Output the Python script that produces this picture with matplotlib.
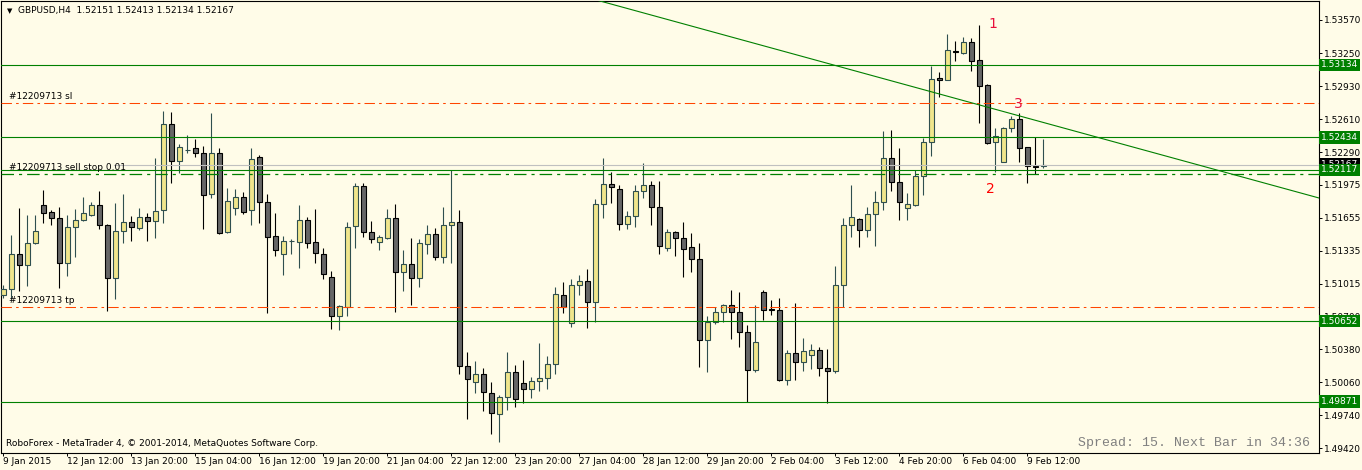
import matplotlib
matplotlib.use("Agg")
import matplotlib.pyplot as plt
from matplotlib.transforms import blended_transform_factory

# GBPUSD H4 bars, oldest first
opens = [1.50905, 1.50961, 1.51300, 1.51193, 1.51406, 1.51774, 1.51707, 1.51648, 1.51212, 1.51561,
         1.51632, 1.51678, 1.51774, 1.51581, 1.51067, 1.51523, 1.51610, 1.51552, 1.51658, 1.51619,
         1.51726, 1.52559, 1.52201, 1.52312, 1.52327, 1.52278, 1.51881, 1.52278, 1.51519, 1.51745,
         1.51852, 1.51726, 1.52240, 1.51804, 1.51474, 1.51300, 1.51424, 1.51422, 1.51629, 1.51416,
         1.51300, 1.51077, 1.50705, 1.50792, 1.51571, 1.51959, 1.51513, 1.51422, 1.51460, 1.51651,
         1.51125, 1.51206, 1.51067, 1.51397, 1.51493, 1.51271, 1.51581, 1.51610, 1.50214, 1.50059,
         1.50137, 1.49953, 1.49749, 1.49914, 1.50156, 1.50050, 1.49992, 1.50069, 1.50098, 1.50234,
         1.50902, 1.50631, 1.50999, 1.51038, 1.50834, 1.51784, 1.51978, 1.51930, 1.51590, 1.51668,
         1.51910, 1.51968, 1.51755, 1.51358, 1.51513, 1.51455, 1.51367, 1.51251, 1.50466, 1.50641,
         1.50738, 1.50805, 1.50738, 1.50544, 1.50176, 1.50931, 1.50767, 1.50757, 1.50079, 1.50340,
         1.50253, 1.50321, 1.50369, 1.50195, 1.50166, 1.50999, 1.51581, 1.51639, 1.51532, 1.51687,
         1.51809, 1.52230, 1.52003, 1.51751, 1.51782, 1.52054, 1.52385, 1.53005, 1.52986, 1.53265,
         1.53253, 1.53354, 1.53180, 1.52937, 1.52385, 1.52197, 1.52521, 1.52611, 1.52339, 1.52155,
         1.52151]
highs = [1.51002, 1.51487, 1.51751, 1.51680, 1.51680, 1.51923, 1.51729, 1.51761, 1.51680, 1.51739,
         1.51858, 1.51809, 1.51916, 1.51593, 1.51794, 1.51884, 1.51671, 1.51745, 1.51697, 1.52230,
         1.52688, 1.52676, 1.52368, 1.52456, 1.52417, 1.52352, 1.52666, 1.52327, 1.51945, 1.51930,
         1.51903, 1.52333, 1.52262, 1.51881, 1.51697, 1.51477, 1.51445, 1.51777, 1.51661, 1.51739,
         1.51361, 1.51138, 1.50811, 1.51613, 1.51991, 1.51988, 1.51622, 1.51487, 1.51739, 1.51787,
         1.51341, 1.51458, 1.51445, 1.51584, 1.51557, 1.51758, 1.52112, 1.51726, 1.50353, 1.50269,
         1.50195, 1.50059, 1.49936, 1.50353, 1.50227, 1.50273, 1.50108, 1.50443, 1.50314, 1.50983,
         1.51028, 1.51057, 1.51096, 1.51157, 1.51833, 1.52233, 1.52094, 1.51968, 1.51716, 1.51968,
         1.52181, 1.52007, 1.52007, 1.51542, 1.51523, 1.51613, 1.51503, 1.51406, 1.50702, 1.50786,
         1.50821, 1.50954, 1.50931, 1.50612, 1.50811, 1.50954, 1.50854, 1.50876, 1.50372, 1.50825,
         1.50486, 1.50428, 1.50404, 1.50379, 1.51183, 1.51648, 1.51971, 1.51648, 1.51755, 1.51910,
         1.52494, 1.52504, 1.52333, 1.51891, 1.52121, 1.52424, 1.53127, 1.53063, 1.53434, 1.53367,
         1.53402, 1.53393, 1.53522, 1.52950, 1.52524, 1.52536, 1.52640, 1.52666, 1.52344, 1.52439,
         1.52413]
lows = [1.50873, 1.50864, 1.50947, 1.50995, 1.51399, 1.51606, 1.51584, 1.50970, 1.51092, 1.51276,
        1.51625, 1.51671, 1.51542, 1.50753, 1.50867, 1.51412, 1.51431, 1.51535, 1.51431, 1.51455,
        1.51606, 1.51993, 1.52090, 1.52284, 1.52245, 1.51548, 1.51848, 1.51493, 1.51509, 1.51680,
        1.51690, 1.51584, 1.51606, 1.50734, 1.51286, 1.51102, 1.51303, 1.51170, 1.51364, 1.51218,
        1.51060, 1.50573, 1.50566, 1.50702, 1.51364, 1.51470, 1.51412, 1.51338, 1.51445, 1.50743,
        1.50947, 1.50811, 1.50986, 1.51303, 1.51244, 1.51212, 1.51212, 1.50140, 1.49707, 1.49959,
        1.49784, 1.49555, 1.49484, 1.49788, 1.49823, 1.49856, 1.49904, 1.49972, 1.49997, 1.50137,
        1.50728, 1.50592, 1.50902, 1.50583, 1.50641, 1.51654, 1.51794, 1.51532, 1.51548, 1.51567,
        1.51848, 1.51587, 1.51300, 1.51335, 1.51283, 1.51083, 1.51131, 1.50210, 1.50162, 1.50621,
        1.50641, 1.50482, 1.50404, 1.49871, 1.50162, 1.50666, 1.50714, 1.50072, 1.50036, 1.50079,
        1.50172, 1.50191, 1.50123, 1.49856, 1.50152, 1.50789, 1.51470, 1.51373, 1.51470, 1.51383,
        1.51729, 1.51913, 1.51632, 1.51632, 1.51768, 1.51874, 1.52255, 1.52821, 1.52984, 1.53176,
        1.53238, 1.53079, 1.52569, 1.52373, 1.52100, 1.52194, 1.52488, 1.52197, 1.51993, 1.52075,
        1.52134]
closes = [1.50961, 1.51300, 1.51193, 1.51406, 1.51525, 1.51697, 1.51648, 1.51212, 1.51561, 1.51632,
          1.51697, 1.51774, 1.51581, 1.51067, 1.51523, 1.51610, 1.51567, 1.51658, 1.51619, 1.51716,
          1.52559, 1.52201, 1.52336, 1.52315, 1.52278, 1.51871, 1.52278, 1.51509, 1.51816, 1.51852,
          1.51712, 1.52220, 1.51804, 1.51470, 1.51338, 1.51426, 1.51426, 1.51629, 1.51412, 1.51309,
          1.51106, 1.50705, 1.50796, 1.51564, 1.51959, 1.51513, 1.51445, 1.51467, 1.51651, 1.51125,
          1.51206, 1.51067, 1.51406, 1.51493, 1.51271, 1.51581, 1.51610, 1.50214, 1.50088, 1.50137,
          1.49962, 1.49759, 1.49914, 1.50156, 1.49895, 1.49992, 1.50069, 1.50098, 1.50234, 1.50912,
          1.50786, 1.50999, 1.51038, 1.50834, 1.51784, 1.51978, 1.51949, 1.51590, 1.51668, 1.51910,
          1.51968, 1.51755, 1.51377, 1.51513, 1.51455, 1.51348, 1.51251, 1.50466, 1.50646, 1.50738,
          1.50808, 1.50738, 1.50544, 1.50176, 1.50447, 1.50763, 1.50760, 1.50079, 1.50340, 1.50253,
          1.50360, 1.50369, 1.50195, 1.50166, 1.50999, 1.51581, 1.51658, 1.51532, 1.51687, 1.51804,
          1.52230, 1.52003, 1.51809, 1.51787, 1.52058, 1.52385, 1.52998, 1.52986, 1.53276, 1.53262,
          1.53354, 1.53176, 1.52933, 1.52381, 1.52443, 1.52524, 1.52611, 1.52327, 1.52152, 1.52150,
          1.52167]

date_labels = ["9 Jan 2015", "12 Jan 12:00", "13 Jan 20:00", "15 Jan 04:00", "16 Jan 12:00",
               "19 Jan 20:00", "21 Jan 04:00", "22 Jan 12:00", "23 Jan 20:00", "27 Jan 04:00",
               "28 Jan 12:00", "29 Jan 20:00", "2 Feb 04:00", "3 Feb 12:00", "4 Feb 20:00",
               "6 Feb 04:00", "9 Feb 12:00"]
bars_per_label = 8

price_ticks = [1.53570, 1.53250, 1.52930, 1.52610, 1.52290, 1.51975, 1.51655,
               1.51335, 1.51015, 1.50700, 1.50380, 1.50060, 1.49740, 1.49420]
levels = [1.53134, 1.52434, 1.52117, 1.50652, 1.49871]
bid = 1.52167
sl_price = 1.52766
tp_price = 1.50789
stop_price = 1.52078
trend_x = [70, 170]
trend_y = [1.53851, 1.51727]
marks = ["1", "2", "3"]
marks_x = [123.7, 123.3, 126.9]
marks_y = [1.53531, 1.51932, 1.52756]

bg = "#FFFCE8"
green = "#008000"
orange = "#FF4500"
plt.rcParams["font.family"] = ["DejaVu Sans"]

W, H = 1362, 470
fig = plt.figure(figsize=(W / 100, H / 100), dpi=100, facecolor=bg)
ax = fig.add_axes([1 / W, 1 - 452.5 / H, 1318 / W, 451.5 / H], facecolor=bg)
ax.set_xlim(-0.3125, 164.44)
ax.set_ylim(1.49379, 1.53754)

n = len(opens)
xs = list(range(n))
up = [c >= o for o, c in zip(opens, closes)]
edge = ["#2F4F4F" if u else "black" for u in up]
face = ["#F0E68C" if u else "#666666" for u in up]
ax.vlines(xs, lows, highs, colors=edge, lw=0.8, zorder=2)
ax.bar(xs, [c - o for o, c in zip(opens, closes)], bottom=opens, width=0.56,
       color=face, edgecolor=edge, lw=0.8, zorder=3)

# horizontal levels and orders
tr = blended_transform_factory(ax.transAxes, ax.transData)
ax.axhline(bid, xmin=113 / 1318, color="#C0C0C0", lw=0.8, zorder=3.5)
for p in levels:
    ax.axhline(p, color=green, lw=0.8, zorder=4)
dashdot = (0, (10, 4, 2.5, 4))
ax.axhline(sl_price, color=orange, lw=0.75, ls=dashdot, zorder=4)
ax.axhline(tp_price, color=orange, lw=0.75, ls=dashdot, zorder=4)
ax.axhline(stop_price, color=green, lw=0.9, ls=dashdot, zorder=4)
ax.plot(trend_x, trend_y, color=green, lw=0.8, zorder=4)

for txt, p in [("#12209713 sl", sl_price), ("#12209713 sell stop 0.01", stop_price),
               ("#12209713 tp", tp_price)]:
    ax.annotate(txt, xy=(0.006, p), xycoords=tr, xytext=(0, 1.5), textcoords="offset points",
                fontsize=6.5, va="bottom", ha="left", color="black", zorder=5)

for m, mx, my in zip(marks, marks_x, marks_y):
    ax.text(mx, my, m, fontsize=10, color="#E8103C" if m != "2" else "red",
            ha="center", va="center", zorder=5)

# price labels on the right
ax.text(1.0015, bid, f"{bid:.5f}", transform=tr, color="white", fontsize=6.5, va="center",
        ha="left", bbox=dict(boxstyle="square,pad=0.2", fc="black", ec="none"), zorder=6)
for p in levels:
    ax.text(1.0015, p, f"{p:.5f}", transform=tr, color="white", fontsize=6.5, va="center",
            ha="left", bbox=dict(boxstyle="square,pad=0.2", fc=green, ec="none"), zorder=7)

ax.yaxis.tick_right()
ax.set_yticks(price_ticks)
ax.set_yticklabels([f"{p:.5f}" for p in price_ticks])
ax.tick_params(axis="y", direction="out", length=2.2, width=0.7, pad=1.5, labelsize=6.5)
ax.set_xticks(xs[::bars_per_label])
ax.set_xticklabels(date_labels)
ax.tick_params(axis="x", direction="out", length=2.2, width=0.7, pad=1, labelsize=6.5)
for lbl in ax.get_xticklabels():
    lbl.set_ha("left")
for s in ax.spines.values():
    s.set_color("black")
    s.set_linewidth(0.8)

fig.text(10 / W, 1 - 11 / H, "\u25bc", fontsize=5, ha="center", va="center")
fig.text(18 / W, 1 - 10.5 / H, "GBPUSD,H4  1.52151 1.52413 1.52134 1.52167",
         fontsize=6.5, ha="left", va="center")
fig.text(6 / W, 1 - 444 / H, "RoboForex - MetaTrader 4, \u00a9 2001-2014, MetaQuotes Software Corp.",
         fontsize=6.5, ha="left", va="center")
fig.text(1310 / W, 1 - 443 / H, "Spread: 15. Next Bar in 34:36", family="Liberation Mono",
         fontsize=9.5, color="#808080", ha="right", va="center")

fig.savefig("out.png", dpi=100, facecolor=bg)
